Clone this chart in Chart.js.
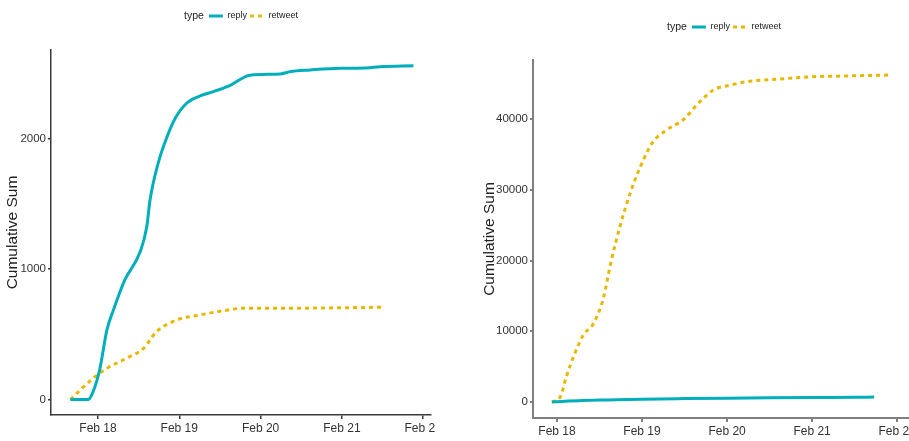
<!DOCTYPE html>
<html>
<head>
<meta charset="utf-8">
<script src="https://cdn.jsdelivr.net/npm/chart.js@4.4.1/dist/chart.umd.min.js"></script>
<style>
  body { margin: 0; width: 909px; height: 441px; overflow: hidden; background: #fff; position: relative; }
  .panel { position: absolute; top: 0; height: 441px; overflow: hidden; }
  canvas { display: block; }
</style>
</head>
<body>
<div class="panel" style="left:0;width:435px"><canvas id="chart1" width="470" height="441"></canvas></div>
<div class="panel" style="left:460px;width:449px"><canvas id="chart2" width="470" height="441"></canvas></div>
<script>
// series names + colours
const seriesNames = ["reply", "retweet"];
const seriesColors = ["#00AFBB", "#E7B800"];

// x ticks (day of February)
const tickDays = [18, 19, 20, 21, 22];
const tickLabels = ["Feb 18", "Feb 19", "Feb 20", "Feb 21", "Feb 22"];

// LEFT PANEL DATA
const leftReplyDays = [17.66, 17.88, 17.94, 18.02, 18.11, 18.19, 18.33, 18.52, 18.6, 18.64, 18.74, 18.85, 18.95, 19.09, 19.25, 19.42, 19.62, 19.87, 20.24, 20.36, 20.61, 20.98, 21.3, 21.47, 21.88];
const leftReplyValues = [0, 0, 60, 226, 533, 686, 916, 1133, 1324, 1528, 1810, 2014, 2155, 2270, 2325, 2359, 2405, 2485, 2494, 2512, 2525, 2538, 2540, 2550, 2558];
const leftRetweetDays = [17.66, 17.94, 18.11, 18.35, 18.56, 18.72, 18.97, 19.25, 19.54, 19.79, 20.28, 21.51];
const leftRetweetValues = [0, 162, 239, 316, 392, 520, 609, 647, 680, 699, 699, 707];
const leftYTicks = [0, 1000, 2000];

// RIGHT PANEL DATA
const rightReplyDays = [17.94, 18.3, 18.6, 19.0, 19.5, 20.0, 20.5, 21.0, 21.5, 21.73];
const rightReplyValues = [0, 200, 290, 400, 480, 540, 590, 630, 660, 690];
const rightRetweetDays = [17.94, 18.04, 18.11, 18.21, 18.31, 18.43, 18.54, 18.64, 18.74, 18.86, 18.98, 19.13, 19.29, 19.49, 19.68, 19.84, 20.04, 20.23, 20.62, 21.02, 21.41, 21.92];
const rightRetweetValues = [0, 750, 3580, 6880, 9470, 11120, 14420, 20070, 24780, 29500, 33260, 36790, 38450, 39960, 42450, 44100, 44800, 45270, 45650, 45980, 46080, 46220];
const rightYTicks = [0, 10000, 20000, 30000, 40000];

const sans = "'Liberation Sans', Arial, sans-serif";

function toPoints(days, vals) {
  return days.map((d, i) => ({ x: d, y: vals[i] }));
}

// moves the legend up to its row and draws the "type" title inline on its left
const typeLabel = {
  id: "typeLabel",
  beforeDraw(chart, args, opts) {
    const lg = chart.legend, ca = chart.chartArea, ctx = chart.ctx;
    ctx.save();
    ctx.font = "10.5px " + sans;
    const tw = ctx.measureText("type").width;
    ctx.restore();
    const shift = (tw + 5) / 2;
    lg.left = ca.left + shift;
    lg.right = ca.right + shift;
    const h = lg.bottom - lg.top;
    lg.top = opts.y - lg.options.labels.padding - lg.options.labels.font.size / 2;
    lg.bottom = lg.top + h;
    opts._tw = tw;
  },
  afterDraw(chart, args, opts) {
    const lg = chart.legend, ctx = chart.ctx;
    const pad = lg.options.labels.padding;
    const x0 = (lg.left + pad + lg.right - lg.lineWidths[0]) / 2;
    ctx.save();
    ctx.font = "10.5px " + sans;
    ctx.fillStyle = "#222";
    ctx.textBaseline = "middle";
    ctx.fillText("type", x0 - 5 - opts._tw, opts.y);
    ctx.restore();
  },
};

function chartIt(canvasName, p) {
  const ctx = document.getElementById(canvasName).getContext("2d");
  const chart = new Chart(ctx, {
    type: "line",
    data: {
      datasets: [
        {
          label: seriesNames[0],
          data: toPoints(p.replyDays, p.replyValues),
          borderColor: seriesColors[0],
          backgroundColor: seriesColors[0],
          borderWidth: 3,
          pointRadius: 0,
          cubicInterpolationMode: "monotone",
        },
        {
          label: seriesNames[1],
          data: toPoints(p.retweetDays, p.retweetValues),
          borderColor: seriesColors[1],
          backgroundColor: seriesColors[1],
          borderWidth: 3,
          borderDash: [4, 4],
          pointRadius: 0,
          cubicInterpolationMode: "monotone",
        },
      ],
    },
    options: {
      responsive: false,
      animation: false,
      devicePixelRatio: 1,
      layout: { padding: { top: 0, right: p.right, bottom: 0, left: 0 } },
      plugins: {
        tooltip: { enabled: false },
        typeLabel: { y: p.legendY },
        legend: {
          position: "top",
          align: "center",
          labels: {
            usePointStyle: true,
            pointStyle: "line",
            pointStyleWidth: 14,
            padding: 3,
            color: "#222",
            font: { family: sans, size: 9 },
            // point-style legend loses the dash, put it back from the dataset
            generateLabels: (c) => {
              const items = Chart.defaults.plugins.legend.labels.generateLabels(c);
              items.forEach((it, i) => {
                it.lineDash = c.data.datasets[i].borderDash || [];
                it.lineWidth = 3;
              });
              return items;
            },
          },
        },
      },
      scales: {
        x: {
          type: "linear",
          min: p.xMin,
          max: p.xMax,
          afterBuildTicks: (s) => { s.ticks = tickDays.map((v) => ({ value: v })); },
          afterFit: (s) => { s.height = p.xHeight; },
          border: { display: true, color: p.axisColor, width: p.axisWidth },
          grid: { display: true, drawOnChartArea: false, drawTicks: true, tickLength: 4, color: p.axisColor, lineWidth: p.axisWidth },
          ticks: {
            autoSkip: false,
            maxRotation: 0,
            padding: 2,
            color: "#333",
            font: { family: sans, size: 12 },
            callback: (v) => tickLabels[tickDays.indexOf(v)],
          },
        },
        y: {
          type: "linear",
          min: p.yMin,
          max: p.yMax,
          afterBuildTicks: (s) => { s.ticks = p.yTicks.map((v) => ({ value: v })); },
          afterFit: (s) => { s.width = p.yWidth; },
          border: { display: true, color: p.axisColor, width: p.axisWidth },
          grid: { display: true, drawOnChartArea: false, drawTicks: true, tickLength: 3, color: p.axisColor, lineWidth: p.axisWidth },
          ticks: {
            padding: 2,
            color: "#333",
            font: { family: sans, size: 11.5 },
            callback: (v) => String(v),
          },
          title: {
            display: true,
            text: "Cumulative Sum",
            color: "#222",
            font: { family: sans, size: 15.5 },
            padding: { top: p.titlePad, bottom: 0 },
          },
        },
      },
    },
    plugins: [typeLabel],
  });
  // legend takes room at the top; pad the rest so the plot starts at p.top
  chart.options.layout.padding.top = Math.max(0, p.top - chart.legend.height);
  chart.update();
  return chart;
}

//CHARTING THE TWO PANELS
chartIt("chart1", {
  replyDays: leftReplyDays, replyValues: leftReplyValues,
  retweetDays: leftRetweetDays, retweetValues: leftRetweetValues,
  yTicks: leftYTicks, yMin: -119, yMax: 2678,
  xMin: 17.422, xMax: 22.096,
  top: 50, right: 39, xHeight: 26, yWidth: 51, titlePad: 3.5,
  legendY: 16, axisColor: "#3a3a3a", axisWidth: 1.5,
});
chartIt("chart2", {
  replyDays: rightReplyDays, replyValues: rightReplyValues,
  retweetDays: rightRetweetDays, retweetValues: rightRetweetValues,
  yTicks: rightYTicks, yMin: -2261, yMax: 48339,
  xMin: 17.718, xMax: 22.21,
  top: 60, right: 15, xHeight: 23, yWidth: 73, titlePad: 20,
  legendY: 27, axisColor: "#808080", axisWidth: 2,
});
</script>
</body>
</html>
